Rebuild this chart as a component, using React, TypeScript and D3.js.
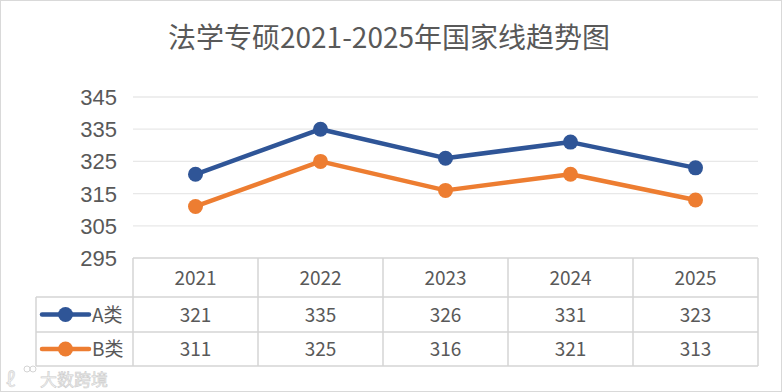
import React, { useEffect, useRef } from 'react';
import * as d3 from 'd3';

const years = ['2021', '2022', '2023', '2024', '2025'];
const seriesA = [321, 335, 326, 331, 323];
const seriesB = [311, 325, 316, 321, 313];
const seriesNames = ['A类', 'B类'];
const colors = ['#2F5597', '#ED7D31'];
const yTicks = [295, 305, 315, 325, 335, 345];

const App = () => {
  const svgRef = useRef<SVGSVGElement | null>(null);

  useEffect(() => {
    const width = 782;
    const height = 392;
    const left = 133;
    const right = 758;
    const top = 97;
    const bottom = 258;
    const rowH = [258, 297, 332, 366];
    const font = '"Noto Sans CJK SC", "Noto Sans", sans-serif';
    const textColor = '#595959';

    const svg = d3.select(svgRef.current).attr('width', width).attr('height', height);
    svg.selectAll('*').remove();

    svg.append('rect').attr('x', 0.5).attr('y', 0.5).attr('width', width - 1).attr('height', height - 1)
      .attr('fill', '#fff').attr('stroke', '#d9d9d9');

    // title
    svg.append('text').attr('x', 389).attr('y', 48).attr('text-anchor', 'middle')
      .attr('font-family', font).attr('font-size', 28).attr('fill', textColor)
      .text('法学专硕2021-2025年国家线趋势图');

    const x = d3.scaleBand().domain(years).range([left, right]);
    const y = d3.scaleLinear().domain([295, 345]).range([bottom, top]);

    // grid lines
    svg.append('g').selectAll('line').data(yTicks.slice(1)).enter().append('line')
      .attr('x1', left).attr('x2', right)
      .attr('y1', d => y(d)).attr('y2', d => y(d))
      .attr('stroke', '#e8e8e8').attr('stroke-width', 1.3);

    // y tick labels
    svg.append('g').selectAll('text').data(yTicks).enter().append('text')
      .attr('x', 117).attr('y', d => y(d) + 8).attr('text-anchor', 'end')
      .attr('font-family', '"Liberation Sans", Arial, sans-serif').attr('font-size', 22).attr('fill', textColor)
      .text(d => d);

    // lines
    const data = [seriesA, seriesB];
    const line = d3.line<number>()
      .x((_, i) => (x(years[i]) as number) + x.bandwidth() / 2)
      .y(d => y(d));

    data.forEach((s, k) => {
      const g = svg.append('g');
      g.append('path').datum(s).attr('d', line).attr('fill', 'none')
        .attr('stroke', colors[k]).attr('stroke-width', 4.5).attr('stroke-linejoin', 'round');
      g.selectAll('circle').data(s).enter().append('circle')
        .attr('cx', (_, i) => (x(years[i]) as number) + x.bandwidth() / 2)
        .attr('cy', d => y(d)).attr('r', 7.5).attr('fill', colors[k]);
    });

    // data table
    const grid = svg.append('g').attr('stroke', '#d4d4d4').attr('stroke-width', 1.5);
    grid.append('line').attr('x1', left).attr('x2', right).attr('y1', rowH[0]).attr('y2', rowH[0]);
    [1, 2, 3].forEach(r => {
      grid.append('line').attr('x1', 36).attr('x2', right).attr('y1', rowH[r]).attr('y2', rowH[r]);
    });
    grid.append('line').attr('x1', 36).attr('x2', 36).attr('y1', rowH[1]).attr('y2', rowH[3]);
    years.forEach(yr => {
      const cx = x(yr) as number;
      grid.append('line').attr('x1', cx).attr('x2', cx).attr('y1', rowH[0]).attr('y2', rowH[3]);
    });
    grid.append('line').attr('x1', right).attr('x2', right).attr('y1', rowH[0]).attr('y2', rowH[3]);

    const cellText = (tx: number, ty: number, t: string, anchor = 'middle') =>
      svg.append('text').attr('x', tx).attr('y', ty).attr('text-anchor', anchor)
        .attr('font-family', font).attr('font-size', 19).attr('fill', textColor).text(t);

    years.forEach(yr => {
      cellText((x(yr) as number) + x.bandwidth() / 2, (rowH[0] + rowH[1]) / 2 + 7, yr);
    });
    data.forEach((s, k) => {
      const cy = (rowH[k + 1] + rowH[k + 2]) / 2;
      s.forEach((v, i) => cellText((x(years[i]) as number) + x.bandwidth() / 2, cy + 7, String(v)));
      svg.append('line').attr('x1', 42).attr('x2', 89).attr('y1', cy).attr('y2', cy)
        .attr('stroke', colors[k]).attr('stroke-width', 4.5).attr('stroke-linecap', 'round');
      svg.append('circle').attr('cx', 65.5).attr('cy', cy).attr('r', 7.5).attr('fill', colors[k]);
      cellText(92, cy + 7, seriesNames[k], 'start');
    });

    // watermark
    const wm = svg.append('g').attr('opacity', 0.9);
    wm.append('text').attr('x', 6).attr('y', 387).attr('font-family', font).attr('font-size', 20)
      .attr('fill', '#eeeeee').attr('stroke', '#cfcfcf').attr('stroke-width', 0.6).text('ℓ');
    wm.append('circle').attr('cx', 27).attr('cy', 369).attr('r', 3).attr('fill', 'none').attr('stroke', '#d0d0d0');
    wm.append('circle').attr('cx', 33).attr('cy', 369).attr('r', 3).attr('fill', 'none').attr('stroke', '#d0d0d0');
    wm.append('text').attr('x', 40).attr('y', 386).attr('font-family', font).attr('font-size', 17)
      .attr('fill', '#f2f2f2').attr('stroke', '#c8c8c8').attr('stroke-width', 0.6).text('大数跨境');
  }, []);

  return (
    <svg ref={svgRef} style={{ position: 'absolute', left: 0, top: 0, display: 'block' }}></svg>
  );
};

export default App;
